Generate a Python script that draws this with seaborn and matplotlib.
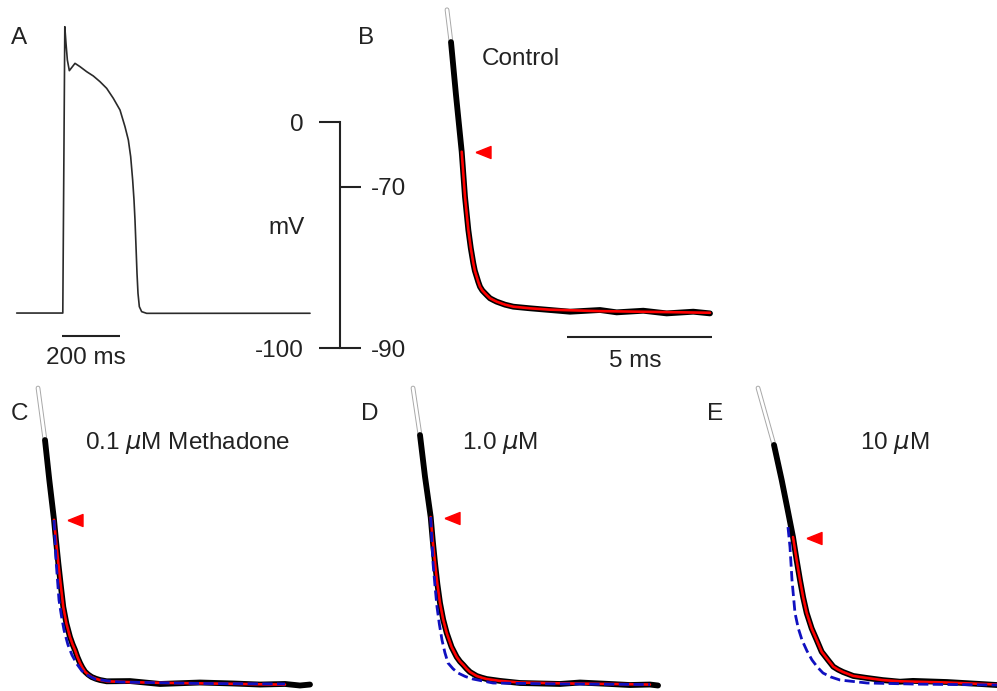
import numpy as np
import pandas as pd
import matplotlib
matplotlib.use("Agg")
import matplotlib.pyplot as plt
from matplotlib.transforms import offset_copy
import seaborn as sns

# ---------------- data ----------------
# Panel A: full action potential (ms, mV)
AP_T = [-158.7, -0.7, 6.2, 10.3, 14.9, 21.7, 41.1, 58.3, 81.1, 104.0, 126.8, 149.7, 172.5,
        195.4, 212.5, 224.0, 232.0, 238.8, 243.4, 246.8, 250.3, 253.7, 257.1, 261.7, 269.7,
        286.8, 846.8]
AP_V = [-84.4, -84.4, 42.3, 34.9, 27.6, 22.85, 26.09, 24.62, 22.4, 20.49, 17.98, 15.03, 10.61,
        5.44, -1.93, -7.83, -15.21, -25.53, -34.38, -43.23, -55.03, -66.83, -75.68, -81.58, -83.79,
        -84.53, -84.5]

# Panel B: Control (ms, mV)
B_GHOST_T = [0.0, 0.138]
B_GHOST_V = [-48.1, -52.1]
B_T = [0.138, 0.31, 0.507, 0.62, 0.736, 0.82, 0.908, 0.96, 1.024, 1.08, 1.138, 1.22, 1.31, 1.4,
       1.483, 1.6, 1.713, 2.0, 2.287, 2.862, 3.552, 4.241, 5.276, 5.851, 6.769, 7.575, 8.493, 9.069]
B_V = [-52.1, -58.65, -65.67, -71.24, -75.36, -77.6, -79.48, -80.4, -81.14, -81.8, -82.38, -82.85,
       -83.19, -83.52, -83.81, -84.03, -84.23, -84.6, -84.85, -85.05, -85.26, -85.47, -85.26,
       -85.55, -85.35, -85.68, -85.47, -85.68]
B_FIT_T = [0.507, 0.62, 0.736, 0.82, 0.908, 0.96, 1.024, 1.08, 1.138, 1.22, 1.31, 1.4, 1.483,
           1.6, 1.713, 2.0, 2.287, 2.862, 3.552, 5.276, 7.575, 9.069]
B_FIT_V = [-65.67, -71.24, -75.36, -77.6, -79.48, -80.4, -81.14, -81.8, -82.38, -82.85, -83.19,
           -83.52, -83.81, -84.03, -84.23, -84.6, -84.85, -85.05, -85.22, -85.4, -85.52, -85.6]

# Panel C: 0.1 uM
C_GHOST_T = [0.0, 0.241]
C_GHOST_V = [-48.75, -55.19]
C_T = [0.241, 0.39, 0.552, 0.62, 0.7, 0.78, 0.872, 0.98, 1.103, 1.19, 1.276, 1.36, 1.448, 1.53,
       1.621, 1.73, 1.852, 2.0, 2.138, 2.369, 3.172, 4.207, 5.586, 6.724, 7.655, 8.517, 9.034, 9.379]
C_V = [-55.19, -60.14, -65.06, -67.6, -70.41, -73.0, -75.85, -77.9, -79.57, -80.45, -81.18, -82.05,
       -82.78, -83.35, -83.86, -84.22, -84.52, -84.74, -84.89, -85.05, -85.02, -85.38, -85.2,
       -85.32, -85.45, -85.38, -85.57, -85.45]
C_FIT_T = [0.552, 0.62, 0.7, 0.78, 0.872, 0.98, 1.103, 1.19, 1.276, 1.36, 1.448, 1.53, 1.621,
           1.73, 1.852, 2.0, 2.138, 2.369, 3.172, 4.207, 5.586, 6.724, 7.655, 8.517]
C_FIT_V = [-65.06, -67.6, -70.41, -73.0, -75.85, -77.9, -79.57, -80.45, -81.18, -82.05, -82.78,
           -83.35, -83.86, -84.22, -84.52, -84.74, -84.89, -85.05, -85.15, -85.24, -85.3, -85.36,
           -85.42, -85.46]
C_CTRL_T = [0.552, 0.621, 0.724, 0.81, 0.897, 1.03, 1.172, 1.34, 1.517, 1.74, 1.966, 2.4, 2.828,
            5.586, 8.517]
C_CTRL_V = [-65.09, -70.04, -74.99, -77.0, -78.7, -80.5, -81.8, -82.9, -83.78, -84.35, -84.77,
            -85.0, -85.14, -85.32, -85.38]

# Panel D: 1.0 uM
D_GHOST_T = [0.0, 0.241]
D_GHOST_V = [-48.75, -54.57]
D_T = [0.241, 0.414, 0.61, 0.68, 0.759, 0.84, 0.931, 1.04, 1.162, 1.33, 1.507, 1.62, 1.735, 1.85,
       1.966, 2.195, 2.37, 2.541, 3.0, 3.69, 5.07, 5.76, 6.79, 7.48, 8.17, 8.45]
D_V = [-54.57, -59.73, -64.72, -67.6, -70.41, -73.0, -75.36, -77.4, -79.07, -80.8, -82.04, -82.6,
       -83.03, -83.5, -83.9, -84.39, -84.6, -84.77, -85.0, -85.26, -85.38, -85.2, -85.38, -85.51,
       -85.45, -85.57]
D_FIT_T = [0.61, 0.68, 0.759, 0.84, 0.931, 1.04, 1.162, 1.33, 1.507, 1.62, 1.735, 1.85, 1.966,
           2.195, 2.37, 2.541, 3.0, 3.69, 5.07, 6.79, 8.17]
D_FIT_V = [-64.72, -67.6, -70.41, -73.0, -75.36, -77.4, -79.07, -80.8, -82.04, -82.6, -83.03,
           -83.5, -83.9, -84.39, -84.6, -84.77, -85.0, -85.2, -85.3, -85.38, -85.45]
D_CTRL_T = [0.61, 0.69, 0.76, 0.828, 0.91, 1.0, 1.1, 1.207, 1.38, 1.552, 1.8, 2.069, 2.759, 4.5,
            8.17]
D_CTRL_V = [-64.72, -70.41, -73.3, -75.85, -78.0, -79.94, -81.5, -82.78, -83.5, -84.02, -84.45,
            -84.77, -85.26, -85.35, -85.45]

# Panel E: 10 uM
E_GHOST_T = [0.0, 0.552]
E_GHOST_V = [-48.75, -55.8]
E_T = [0.552, 0.817, 1.01, 1.207, 1.33, 1.448, 1.56, 1.679, 1.85, 2.024, 2.195, 2.414, 2.597,
       2.76, 2.931, 3.287, 3.759, 4.3, 4.897, 5.345, 6.517, 7.655, 8.24]
E_V = [-55.8, -60.14, -63.6, -67.19, -70.0, -72.51, -74.7, -76.6, -78.5, -79.94, -81.39, -82.41,
       -83.24, -83.6, -83.9, -84.39, -84.64, -84.9, -85.1, -85.0, -85.14, -85.38, -85.51]
E_FIT_T = [1.207, 1.33, 1.448, 1.56, 1.679, 1.85, 2.024, 2.195, 2.414, 2.597, 2.76, 2.931, 3.287,
           3.759, 4.3, 4.897, 6.517, 8.24]
E_FIT_V = [-67.19, -70.0, -72.51, -74.7, -76.6, -78.5, -79.94, -81.39, -82.41, -83.24, -83.6,
           -83.9, -84.39, -84.64, -84.9, -85.05, -85.2, -85.45]
E_CTRL_T = [1.034, 1.103, 1.172, 1.276, 1.39, 1.517, 1.69, 1.862, 2.05, 2.241, 2.5, 2.828, 3.759,
            5.5, 8.24]
E_CTRL_V = [-65.96, -68.43, -72.51, -76.6, -78.5, -79.94, -81.3, -82.41, -83.3, -84.02, -84.5,
            -84.89, -85.26, -85.4, -85.51]

PANEL_LABELS = ["A", "B", "C", "D", "E"]
CONDITION_LABELS = ["Control", "0.1 $\\mu$M Methadone", "1.0 $\\mu$M", "10 $\\mu$M"]
A_TICKS = [0, -100]
A_TICK_LABELS = ["0", "-100"]
B_TICKS = [-70, -90]
B_TICK_LABELS = ["-70", "-90"]
A_BAR_MS = 200
B_BAR_MS = 5

# ---------------- figure ----------------
sns.set_style("white")
plt.rcParams["font.family"] = ["Liberation Sans", "DejaVu Sans"]
plt.rcParams["axes.unicode_minus"] = False

W, H = 997, 691
fig = plt.figure(figsize=(W / 100, H / 100), dpi=100)
FS = 17.5
INK = "#222222"


def panel_ax(rect, xa, xb, ya, yb):
    """rect in pixels (x0, y0, x1, y1), top-left origin; px = xa + xb*t ; py = ya - yb*V"""
    x0, y0, x1, y1 = rect
    ax = fig.add_axes([x0 / W, 1 - y1 / H, (x1 - x0) / W, (y1 - y0) / H])
    ax.set_xlim((x0 - xa) / xb, (x1 - xa) / xb)
    ax.set_ylim((ya - y1) / yb, (ya - y0) / yb)
    ax.set_autoscale_on(False)
    ax.axis("off")
    return ax


def ftext(x, y, s, **kw):
    fig.text(x / W, 1 - y / H, s, fontsize=FS, color=INK, **kw)


def line(ax, t, v, **kw):
    sns.lineplot(x=t, y=v, ax=ax, sort=False, estimator=None, legend=False, **kw)


TRI = [(-1, 0), (1, -0.8), (1, 0.8), (-1, 0)]


def trace_panel(ax, gt, gv, t, v, ft, fv, ct=None, cv=None):
    line(ax, gt, gv, color="#a8a8a8", linewidth=3.4)
    line(ax, gt, gv, color="white", linewidth=2.0)
    line(ax, t, v, color="black", linewidth=4.2, solid_joinstyle="round")
    line(ax, ft, fv, color="#ff0000", linewidth=1.9, solid_joinstyle="round")
    if ct is not None:
        line(ax, ct, cv, color="#1010c0", linewidth=2.0, linestyle="--")
    tr = offset_copy(ax.transData, fig=fig, x=15, y=-0.5, units="points")
    ax.plot([ft[0]], [fv[0]], marker=TRI, markersize=10.8, color="#ff0000",
            linestyle="none", transform=tr, clip_on=False)


# Panel A
axA = panel_ax((0, 0, 330, 380), 63, 0.2917, 122.3, 2.26)
line(axA, AP_T, AP_V, color="#2a2a2a", linewidth=1.2)
bar_v = (122.3 - 336) / 2.26
axA.hlines(bar_v, -4.5, -4.5 + A_BAR_MS, color=INK, linewidth=1.5)

# mV scale (A units on the left, B units on the right)
sc = fig.add_axes([340 / W, 1 - 380 / H, 1 / W, 380 / H])
sc.set_ylim(axA.get_ylim())
sc.patch.set_visible(False)
for s in ["top", "right", "bottom"]:
    sc.spines[s].set_visible(False)
sc.spines["left"].set_bounds(min(A_TICKS), max(A_TICKS))
sc.spines["left"].set_linewidth(1.5)
sc.spines["left"].set_color(INK)
sc.set_xticks([])
sc.set_yticks(A_TICKS)
sc.set_yticklabels(A_TICK_LABELS)
sc.tick_params(axis="y", direction="out", length=15, width=1.5, pad=11, labelsize=FS,
               color=INK, labelcolor=INK, left=True)

# Panel B
YA_B = -378.9
axB = panel_ax((380, 0, 760, 380), 447, 29, YA_B, 8.08)
trace_panel(axB, B_GHOST_T, B_GHOST_V, B_T, B_V, B_FIT_T, B_FIT_V)
bar_vb = (YA_B - 336.7) / 8.08
axB.hlines(bar_vb, 4.127, 4.127 + B_BAR_MS, color=INK, linewidth=1.5)

sc2 = fig.add_axes([340 / W, 1 - 380 / H, 1 / W, 380 / H])
sc2.set_ylim(axB.get_ylim())
sc2.patch.set_visible(False)
for s in ["top", "right", "bottom", "left"]:
    sc2.spines[s].set_visible(False)
sc2.set_xticks([])
sc2.yaxis.tick_right()
sc2.set_yticks(B_TICKS)
sc2.set_yticklabels(B_TICK_LABELS)
sc2.tick_params(axis="y", direction="out", length=14.4, width=1.5, pad=7, labelsize=FS,
                color=INK, labelcolor=INK)

# Panels C, D, E
YA_BOT = YA_B + 373
axC = panel_ax((0, 380, 330, 691), 38, 29, YA_BOT, 8.08)
trace_panel(axC, C_GHOST_T, C_GHOST_V, C_T, C_V, C_FIT_T, C_FIT_V, C_CTRL_T, C_CTRL_V)
axD = panel_ax((380, 380, 690, 691), 413, 29, YA_BOT, 8.08)
trace_panel(axD, D_GHOST_T, D_GHOST_V, D_T, D_V, D_FIT_T, D_FIT_V, D_CTRL_T, D_CTRL_V)
axE = panel_ax((690, 380, 997, 691), 758, 29, YA_BOT, 8.08)
trace_panel(axE, E_GHOST_T, E_GHOST_V, E_T, E_V, E_FIT_T, E_FIT_V, E_CTRL_T, E_CTRL_V)

# ---------------- text ----------------
for lab, (x, y) in zip(PANEL_LABELS, [(19, 38), (366, 38), (20, 414), (370, 414), (715, 414)]):
    ftext(x, y, lab, ha="center", va="center")
ftext(287, 228, "mV", ha="center", va="center")
ftext(86, 358, f"{A_BAR_MS} ms", ha="center", va="center")
ftext(635, 361, f"{B_BAR_MS} ms", ha="center", va="center")
ftext(482, 59, CONDITION_LABELS[0], ha="left", va="center")
ftext(85, 443, CONDITION_LABELS[1], ha="left", va="center")
ftext(462, 443, CONDITION_LABELS[2], ha="left", va="center")
ftext(860, 443, CONDITION_LABELS[3], ha="left", va="center")

fig.savefig("out.png", dpi=100)
